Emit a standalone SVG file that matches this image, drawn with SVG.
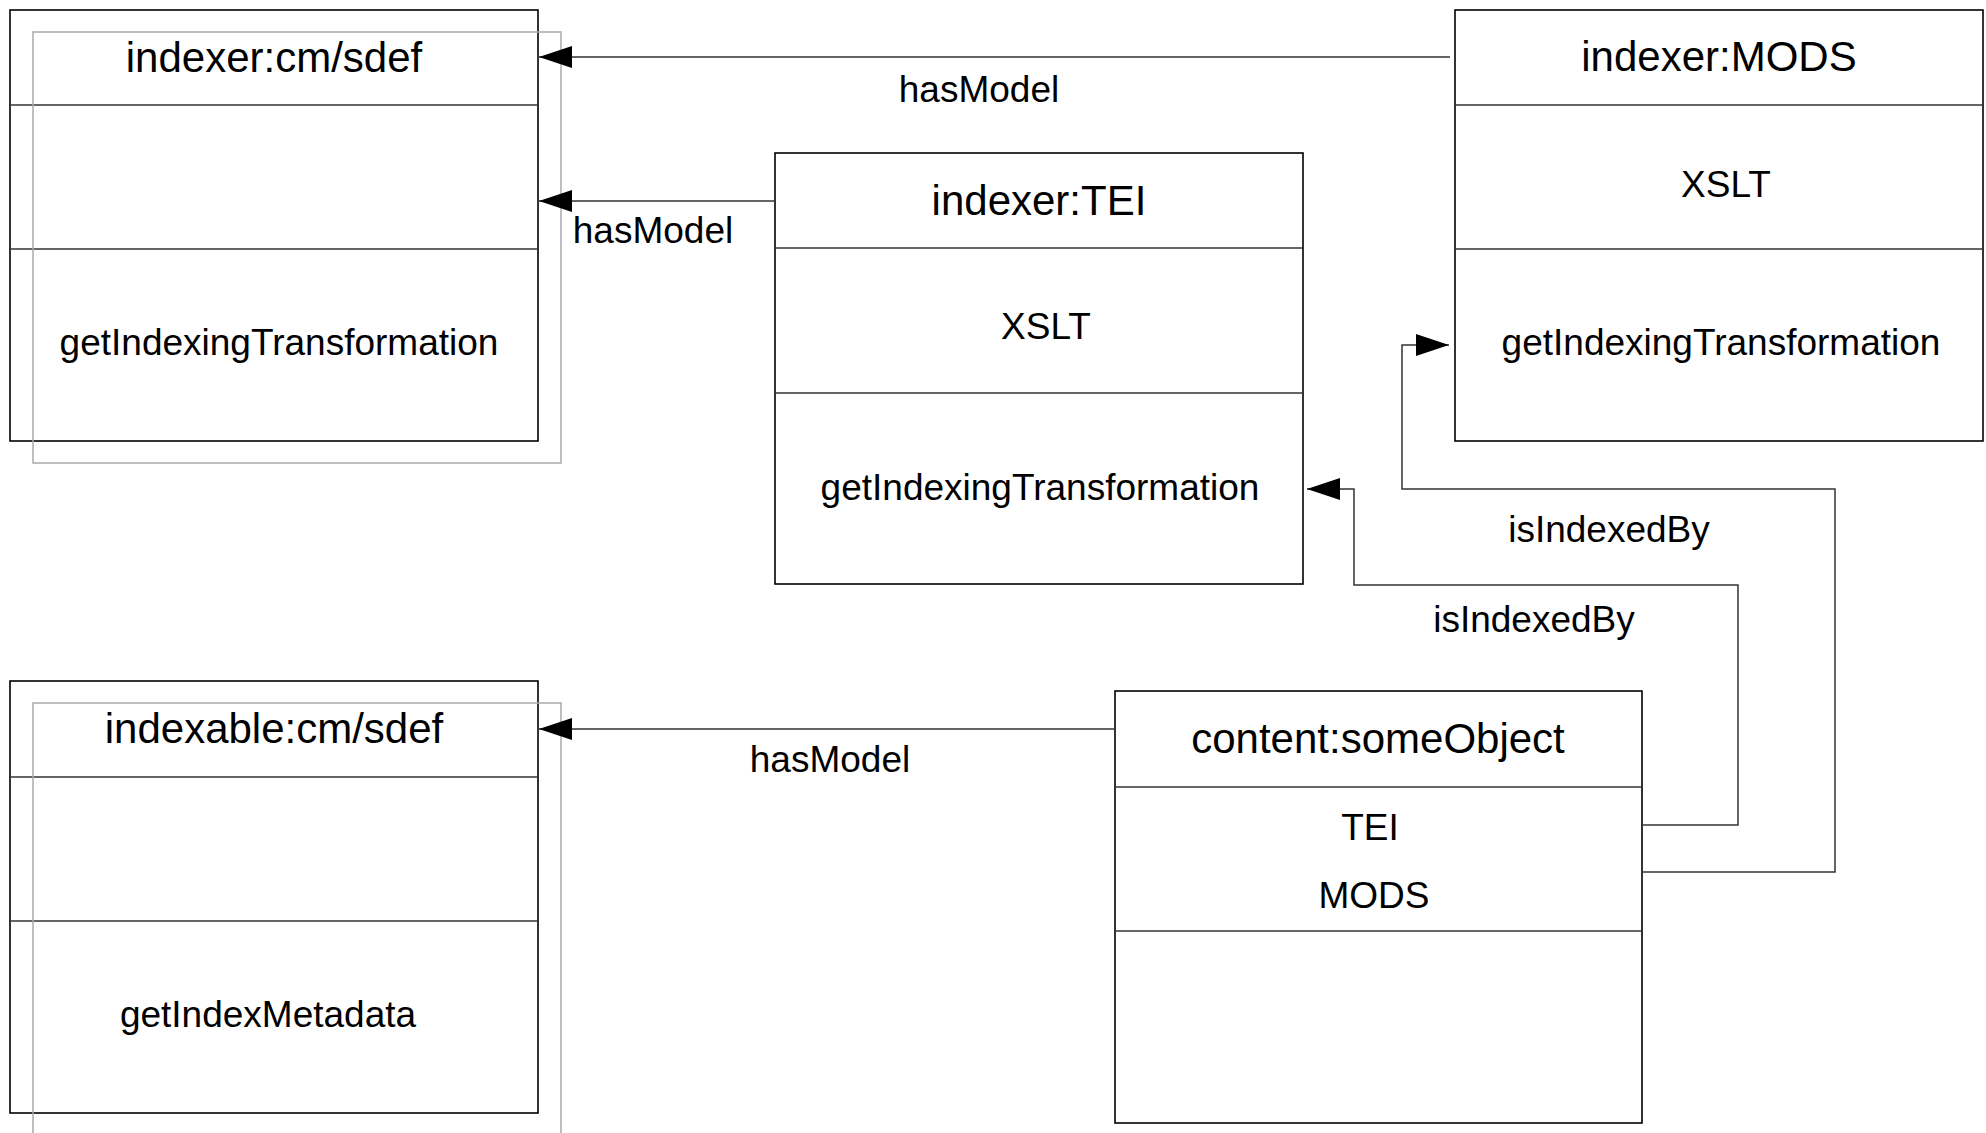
<svg xmlns="http://www.w3.org/2000/svg" width="1986" height="1133" viewBox="0 0 1986 1133">
  <style>
    .box { fill: none; stroke: #000; stroke-width: 1.6; }
    .div { stroke: #333; stroke-width: 1.4; }
    .shadow { fill: none; stroke: #aaa; stroke-width: 1.5; }
    .title { font-family: "Liberation Sans", Arial, sans-serif; font-size: 42px; fill: #000; text-anchor: middle; }
    .body { font-family: "Liberation Sans", Arial, sans-serif; font-size: 37px; fill: #000; text-anchor: middle; }
    .conn { fill: none; stroke: #333; stroke-width: 1.5; }
  </style>
  <defs>
    <marker id="arrow" viewBox="0 0 33 22" refX="33" refY="11" markerWidth="33" markerHeight="22" markerUnits="userSpaceOnUse" orient="auto">
      <path d="M0,0 L33,11 L0,22 z" fill="#000"/>
    </marker>
  </defs>
  <rect width="1986" height="1133" fill="#fff"/>

  <g id="indexer-cm-sdef">
    <rect class="box" x="10" y="10" width="528" height="431"/>
    <line class="div" x1="10" y1="105" x2="538" y2="105"/>
    <line class="div" x1="10" y1="249" x2="538" y2="249"/>
    <text class="title" x="274" y="72">indexer:cm/sdef</text>
    <text class="body" x="279" y="355">getIndexingTransformation</text>
    <rect class="shadow" x="33" y="32" width="528" height="431"/>
  </g>

  <g id="indexer-TEI">
    <rect class="box" x="775" y="153" width="528" height="431"/>
    <line class="div" x1="775" y1="248" x2="1303" y2="248"/>
    <line class="div" x1="775" y1="393" x2="1303" y2="393"/>
    <text class="title" x="1039" y="215">indexer:TEI</text>
    <text class="body" x="1046" y="339">XSLT</text>
    <text class="body" x="1040" y="500">getIndexingTransformation</text>
  </g>

  <g id="indexer-MODS">
    <rect class="box" x="1455" y="10" width="528" height="431"/>
    <line class="div" x1="1455" y1="105" x2="1983" y2="105"/>
    <line class="div" x1="1455" y1="249" x2="1983" y2="249"/>
    <text class="title" x="1719" y="71">indexer:MODS</text>
    <text class="body" x="1726" y="197">XSLT</text>
    <text class="body" x="1721" y="355">getIndexingTransformation</text>
  </g>

  <g id="indexable-cm-sdef">
    <rect class="box" x="10" y="681" width="528" height="432"/>
    <line class="div" x1="10" y1="777" x2="538" y2="777"/>
    <line class="div" x1="10" y1="921" x2="538" y2="921"/>
    <text class="title" x="274" y="743">indexable:cm/sdef</text>
    <text class="body" x="268" y="1027">getIndexMetadata</text>
    <rect class="shadow" x="33" y="703" width="528" height="432"/>
  </g>

  <g id="content-someObject">
    <rect class="box" x="1115" y="691" width="527" height="432"/>
    <line class="div" x1="1115" y1="787" x2="1642" y2="787"/>
    <line class="div" x1="1115" y1="931" x2="1642" y2="931"/>
    <text class="title" x="1378" y="753">content:someObject</text>
    <text class="body" x="1370" y="840">TEI</text>
    <text class="body" x="1374" y="908">MODS</text>
  </g>

  <g id="connectors">
    <polyline class="conn" points="1450,57 539,57" marker-end="url(#arrow)"/>
    <polyline class="conn" points="775,201 539,201" marker-end="url(#arrow)"/>
    <polyline class="conn" points="1115,729 539,729" marker-end="url(#arrow)"/>
    <polyline class="conn" points="1642,825 1738,825 1738,585 1354,585 1354,489 1307,489" marker-end="url(#arrow)"/>
    <polyline class="conn" points="1642,872 1835,872 1835,489 1402,489 1402,345 1449,345" marker-end="url(#arrow)"/>
    <text class="body" x="979" y="102">hasModel</text>
    <text class="body" x="653" y="243">hasModel</text>
    <text class="body" x="830" y="772">hasModel</text>
    <text class="body" x="1609" y="542">isIndexedBy</text>
    <text class="body" x="1534" y="632">isIndexedBy</text>
  </g>
</svg>
